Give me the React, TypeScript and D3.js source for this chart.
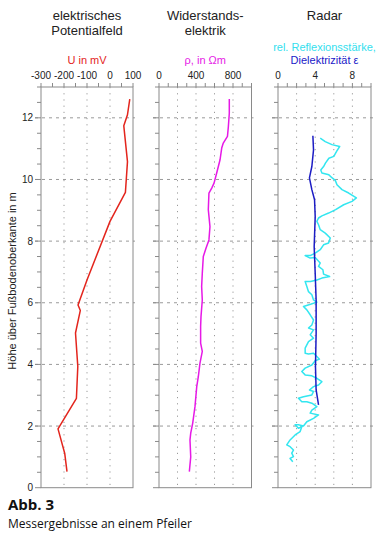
import React from "react";
import * as d3 from "d3";

// Höhe in m
const potentialH = [0.52, 1.12, 1.91, 2.9, 3.93, 5.02, 5.75, 5.93, 6.74, 8.64, 9.58, 10.58, 11.74, 12.1, 12.61];
const potentialU = [-187, -197, -226, -146, -140, -150, -129, -139, -100, 0, 67, 76, 60, 76, 86];

const resistH = [0.52, 1.0, 1.55, 1.77, 2.09, 2.63, 3.28, 3.6, 4.04, 4.42, 4.69, 5.23, 5.55, 6.09, 6.53, 6.96, 7.5, 7.77, 8.04, 8.47, 9.02, 9.56, 9.72, 9.88, 10.2, 10.64, 11.02, 11.18, 11.4, 11.72, 12.15, 12.61];
const resistRho = [328, 343, 335, 343, 364, 389, 408, 425, 443, 468, 450, 450, 454, 468, 461, 468, 479, 508, 540, 551, 533, 540, 570, 595, 623, 660, 678, 695, 740, 750, 760, 760];

const dielH = [2.69, 3.17, 3.93, 5.01, 6.09, 6.96, 7.82, 8.8, 9.34, 9.67, 10.05, 10.42, 10.96, 11.42];
const dielEps = [4.36, 4.1, 4.03, 4.1, 4.1, 4.0, 3.89, 4.0, 3.93, 3.64, 3.38, 3.64, 3.82, 3.75];

const reflH = [
  0.84, 0.95, 1.01, 1.12, 1.22, 1.33, 1.39, 1.55, 1.71, 1.82, 1.98, 1.93, 2.04, 2.04, 2.0, 2.14, 2.25, 2.36, 2.42,
  2.52, 2.63, 2.74, 2.79, 2.79, 2.9, 2.95, 3.01, 3.12, 3.17, 3.28, 3.33, 3.44, 3.55, 3.63, 3.66, 3.77, 3.88, 3.98,
  4.12, 4.17, 4.28, 4.36, 4.34, 4.36, 4.53, 4.74, 4.85, 4.96, 5.12, 5.18, 5.28, 5.44, 5.61, 5.77, 5.88, 5.95, 6.02,
  6.09, 6.26, 6.36, 6.53, 6.69, 6.69, 6.74, 6.8, 6.85, 6.93, 7.07, 7.18, 7.29, 7.47, 7.45, 7.53, 7.53, 7.61, 7.72,
  7.88, 7.94, 8.1, 8.26, 8.37, 8.53, 8.64, 8.75, 8.82, 8.91, 9.02, 9.18, 9.29, 9.4, 9.56, 9.67, 9.83, 9.97, 10.05,
  10.15, 10.21, 10.31, 10.42, 10.53, 10.69, 10.75, 10.91, 11.07, 11.13, 11.23, 11.34,
];
const reflVal = [
  1.59, 1.3, 1.66, 1.48, 1.66, 1.3, 0.94, 1.3, 1.84, 2.38, 2.56, 2.2, 1.84, 2.2, 2.74, 3.1, 3.82, 4.36, 3.46,
  3.64, 4.18, 3.64, 3.1, 2.56, 2.2, 2.74, 3.64, 3.82, 3.38, 3.82, 4.36, 4.72, 4.18, 3.64, 2.92, 2.56, 2.92, 3.64,
  4.0, 4.46, 4.1, 3.82, 3.28, 2.92, 2.92, 3.28, 3.82, 3.46, 3.82, 3.28, 3.64, 3.82, 3.46, 3.1, 2.74, 3.5, 4.18,
  3.82, 3.64, 3.28, 3.1, 2.92, 3.5, 4.18, 4.72, 5.55, 4.9, 4.83, 4.36, 4.54, 4.0, 3.46, 2.92, 3.46, 4.0, 4.54,
  4.9, 5.44, 5.62, 5.08, 4.54, 4.36, 4.18, 4.36, 4.72, 5.44, 6.2, 7.06, 7.96, 8.43, 7.6, 6.88, 6.34, 6.16, 5.83,
  5.47, 4.72, 4.6, 4.9, 5.1, 5.47, 6.0, 6.3, 6.63, 5.8, 5.08, 4.54,
];

const hTicksMajor = [0, 2, 4, 6, 8, 10, 12];
const hTicksMinor = d3.range(0, 13.01, 0.5);

const panels = [
  {
    key: "u",
    title: ["elektrisches", "Potentialfeld"],
    sub: [{ text: "U in mV", color: "#e3251d" }],
    x0: 41,
    x1: 133,
    domain: [-300, 100],
    labels: [-300, -200, -100, 0, 100],
    grid: [-200, -100, 0],
    minor: 50,
    series: [{ v: potentialU, h: potentialH, color: "#e3251d" }],
  },
  {
    key: "rho",
    title: ["Widerstands-", "elektrik"],
    sub: [{ text: "ρ, in Ωm", color: "#e619e6" }],
    x0: 159,
    x1: 251.5,
    domain: [0, 1000],
    labels: [0, 400, 800],
    grid: [200, 400, 600, 800],
    minor: 100,
    series: [{ v: resistRho, h: resistH, color: "#e619e6" }],
  },
  {
    key: "radar",
    title: ["Radar"],
    sub: [
      { text: "rel. Reflexionsstärke,", color: "#33e0ee" },
      { text: "Dielektrizität ε", color: "#2020c8" },
    ],
    x0: 278,
    x1: 371,
    domain: [0, 10],
    labels: [0, 4, 8],
    grid: [2, 4, 6, 8],
    minor: 1,
    series: [
      { v: reflVal, h: reflH, color: "#33e6f0" },
      { v: dielEps, h: dielH, color: "#1c1cc4" },
    ],
  },
];

const App = () => {
  const W = 384;
  const H = 541;
  const y = d3.scaleLinear().domain([0, 13]).range([487.7, 87]);
  const font = "'Liberation Sans', Arial, sans-serif";
  const frame = "#8a8a8a";
  const gridC = "#9a9a9a";

  return (
    <svg width={W} height={H} style={{ position: "absolute", left: 0, top: 0, background: "#fff" }}>
      {panels.map((p) => {
        const x = d3.scaleLinear().domain(p.domain).range([p.x0, p.x1]);
        const cx = (p.x0 + p.x1) / 2;
        const minorTicks = d3.range(p.domain[0], p.domain[1] + 1e-9, p.minor);
        return (
          <g key={p.key}>
            {p.title.map((t, i) => (
              <text key={t} x={cx} y={20 + i * 15} textAnchor="middle" fontFamily={font} fontSize={13} fill="#222">
                {t}
              </text>
            ))}
            {p.sub.map((s, i) => (
              <text
                key={s.text}
                x={cx}
                y={64 - (p.sub.length - 1 - i) * 13}
                textAnchor="middle"
                fontFamily={font}
                fontSize={11}
                fill={s.color}
              >
                {s.text}
              </text>
            ))}
            {/* grid */}
            {p.grid.map((g) => (
              <line key={"g" + g} x1={x(g)} x2={x(g)} y1={y(13)} y2={y(0)} stroke={gridC} strokeWidth={1} strokeDasharray="1.2,5" />
            ))}
            {hTicksMajor.slice(1).map((h) => (
              <line key={"h" + h} x1={p.x0 - 6} x2={p.x1 + 2} y1={y(h)} y2={y(h)} stroke={gridC} strokeWidth={1} strokeDasharray="3,4" />
            ))}
            {/* frame */}
            <rect x={p.x0} y={y(13)} width={p.x1 - p.x0} height={y(0) - y(13)} fill="none" stroke={frame} strokeWidth={1} />
            {/* top axis */}
            {minorTicks.map((t) => (
              <line key={"t" + t} x1={x(t)} x2={x(t)} y1={y(13)} y2={y(13) - 4} stroke={frame} strokeWidth={1} />
            ))}
            {p.labels.map((t) => (
              <text key={"l" + t} x={x(t)} y={79} textAnchor="middle" fontFamily={font} fontSize={10} fill="#222">
                {t < 0 ? "-" + Math.abs(t) : t}
              </text>
            ))}
            {/* left ticks */}
            {hTicksMinor.map((h) => (
              <line
                key={"m" + h}
                x1={p.x0 - (h % 2 === 0 ? 6 : 4)}
                x2={p.x0}
                y1={y(h)}
                y2={y(h)}
                stroke={frame}
                strokeWidth={1}
              />
            ))}
            {/* data */}
            {p.series.map((s, i) => {
              const pts: [number, number][] = s.v.map((v, j) => [x(v), y(s.h[j])]);
              const d = d3.line()(pts) || "";
              return <path key={"s" + i} d={d} fill="none" stroke={s.color} strokeWidth={1.5} strokeLinejoin="round" />;
            })}
          </g>
        );
      })}
      {/* y axis labels */}
      {hTicksMajor.map((h) => (
        <text key={"yl" + h} x={33} y={y(h) + 3.5} textAnchor="end" fontFamily={font} fontSize={10} fill="#222">
          {h}
        </text>
      ))}
      <text
        transform={`translate(16, 281) rotate(-90)`}
        textAnchor="middle"
        fontFamily={font}
        fontSize={11}
        fill="#222"
      >
        Höhe über Fußbodenoberkante in m
      </text>
      <text x={8} y={510} fontFamily="'Open Sans', sans-serif" fontWeight="bold" fontSize={15} fill="#111">
        Abb. 3
      </text>
      <text x={8} y={528} fontFamily="'Open Sans', sans-serif" fontSize={12} fill="#111">
        Messergebnisse an einem Pfeiler
      </text>
    </svg>
  );
};

export default App;
